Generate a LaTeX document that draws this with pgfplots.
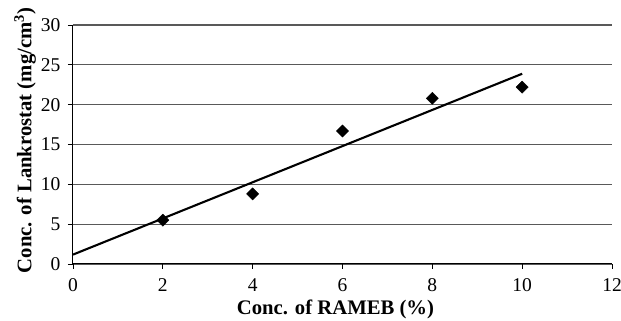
\documentclass[border=0pt]{standalone}
\usepackage{pgfplots}
\pgfplotsset{compat=1.18}
\usepackage{fontspec}
\setmainfont{Liberation Serif}
\begin{document}
\begin{tikzpicture}
\useasboundingbox (-73pt,-57pt) rectangle (548pt,264pt);
\begin{axis}[
  at={(0pt,0pt)}, anchor=south west,
  scale only axis,
  width=539pt, height=239pt,
  xmin=0, xmax=12, ymin=0, ymax=30,
  xtick={0,2,...,12}, ytick={0,5,...,30},
  axis x line=bottom, axis y line=left,
  axis line style={-, black, line width=1pt},
  tick align=outside,
  major tick length=5pt,
  tick style={black, line width=0.8pt},
  ymajorgrids,
  major grid style={black!65, line width=1.1pt},
  /pgf/number format/assume math mode=true,
  ticklabel style={font=\fontsize{19.5}{22}\selectfont},
  yticklabel style={xshift=-4pt},
  xticklabel style={yshift=-6pt},
  xlabel={\textbf{Conc. of RAMEB (\%)}},
  ylabel={\textbf{Conc. of Lankrostat (mg/cm\textsuperscript{3})}},
  label style={font=\fontsize{20.7}{24}\selectfont},
  xlabel style={at={(axis description cs:0.487,-0.213)}, anchor=base},
  ylabel style={at={(axis description cs:-0.089,0.517)}, anchor=center},
  clip=false,
]
\addplot[only marks, mark=square*, mark size=4.3pt, mark options={rotate=45, fill=black, draw=black}]
  coordinates {(2,5.5) (4,8.8) (6,16.7) (8,20.8) (10,22.2)};
\addplot[black, line width=2.1pt, no marks] coordinates {(0,1.18) (10,23.88)};
\end{axis}
\end{tikzpicture}
\end{document}
